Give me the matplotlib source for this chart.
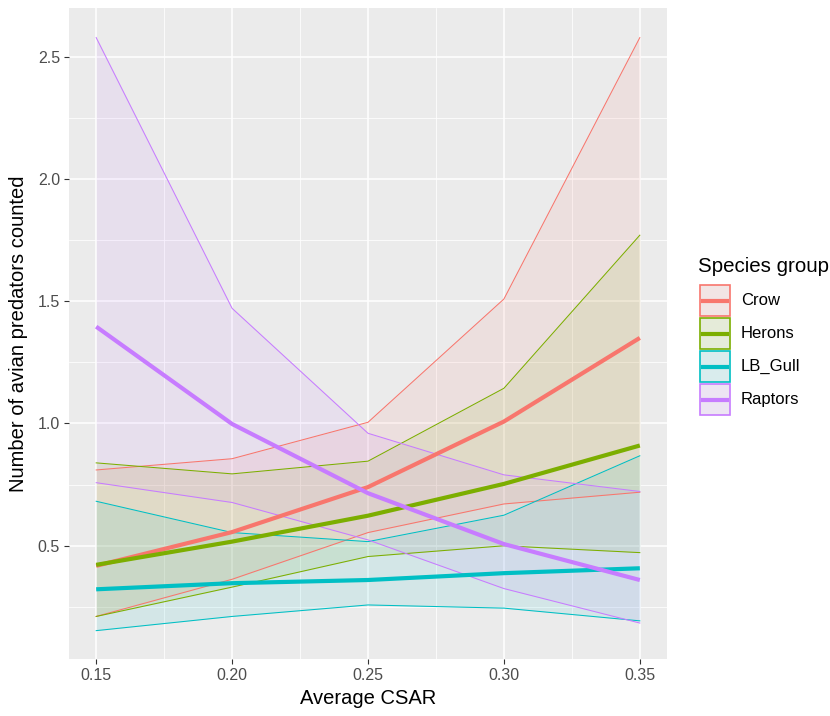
import numpy as np
import matplotlib
matplotlib.use("Agg")
import matplotlib.pyplot as plt
from matplotlib.patches import Rectangle

plt.rcParams["font.family"] = ["Liberation Sans", "DejaVu Sans"]

# data
csar = [0.15, 0.20, 0.25, 0.30, 0.35]
groups = ["Crow", "Herons", "LB_Gull", "Raptors"]
colors = ["#F8766D", "#7CAE00", "#00BFC4", "#C77CFF"]

crow_mean = [0.418, 0.556, 0.740, 1.008, 1.350]
crow_upper = [0.810, 0.856, 1.005, 1.509, 2.578]
crow_lower = [0.211, 0.363, 0.554, 0.671, 0.719]

herons_mean = [0.422, 0.517, 0.623, 0.753, 0.910]
herons_upper = [0.839, 0.794, 0.846, 1.144, 1.770]
herons_lower = [0.211, 0.331, 0.456, 0.500, 0.472]

gull_mean = [0.322, 0.347, 0.360, 0.388, 0.408]
gull_upper = [0.682, 0.554, 0.517, 0.625, 0.868]
gull_lower = [0.153, 0.211, 0.258, 0.245, 0.193]

raptor_mean = [1.396, 0.998, 0.715, 0.507, 0.360]
raptor_upper = [2.578, 1.471, 0.960, 0.790, 0.722]
raptor_lower = [0.758, 0.677, 0.524, 0.325, 0.184]

means = [crow_mean, herons_mean, gull_mean, raptor_mean]
uppers = [crow_upper, herons_upper, gull_upper, raptor_upper]
lowers = [crow_lower, herons_lower, gull_lower, raptor_lower]

W, H = 830, 716
fig = plt.figure(figsize=(W / 100, H / 100), dpi=100)
ax = fig.add_axes([69 / W, 1 - 659 / H, (667 - 69) / W, (659 - 8) / H])
ax.set_facecolor("#EBEBEB")

# ribbons first, then mean lines
for i in range(len(groups)):
    ax.fill_between(csar, lowers[i], uppers[i], color=colors[i], alpha=0.1, lw=0, zorder=2)
    ax.plot(csar, uppers[i], color=colors[i], lw=0.75, zorder=3)
    ax.plot(csar, lowers[i], color=colors[i], lw=0.75, zorder=3)
for i in range(len(groups)):
    ax.plot(csar, means[i], color=colors[i], lw=3.0, zorder=4, solid_capstyle="butt")

ax.set_xlim(0.14, 0.36)
ax.set_ylim(0.037, 2.699)
ax.set_xticks(csar)
ax.set_xticklabels(["%.2f" % v for v in csar])
ax.set_yticks([0.5, 1.0, 1.5, 2.0, 2.5])
ax.set_yticklabels(["0.5", "1.0", "1.5", "2.0", "2.5"])
ax.set_xticks([0.175, 0.225, 0.275, 0.325], minor=True)
ax.set_yticks([0.25, 0.75, 1.25, 1.75, 2.25], minor=True)
ax.grid(which="major", color="white", lw=1.1, zorder=1)
ax.grid(which="minor", color="white", lw=0.55, zorder=1)
ax.set_axisbelow(True)
for s in ax.spines.values():
    s.set_visible(False)
ax.tick_params(which="major", length=3.5, width=0.8, color="#333333",
               labelcolor="#4D4D4D", labelsize=11.5, pad=3)
ax.tick_params(which="minor", length=0)

ax.set_xlabel("Average CSAR", fontsize=14.5, color="black", labelpad=4)
ax.set_ylabel("Number of avian predators counted", fontsize=14.5, color="black", labelpad=7)

# legend drawn in pixel coordinates
lg = fig.add_axes([0, 0, 1, 1], facecolor="none")
lg.set_xlim(0, W)
lg.set_ylim(H, 0)
lg.axis("off")
lg.text(698, 267, "Species group", fontsize=14.8, va="center", ha="left", color="black")
key_top = [285, 318, 351, 384]
for i, g in enumerate(groups):
    y0 = key_top[i]
    lg.add_patch(Rectangle((700, y0), 30, 31, facecolor="#F2F2F2", lw=0))
    lg.add_patch(Rectangle((700, y0), 30, 31, facecolor=colors[i], alpha=0.1, lw=0))
    lg.add_patch(Rectangle((700, y0), 30, 31, facecolor="none", edgecolor=colors[i], lw=1.2))
    lg.plot([701, 729], [y0 + 15.5, y0 + 15.5], color=colors[i], lw=3.0, solid_capstyle="butt")
    lg.text(741, y0 + 15.5, g, fontsize=12, va="center", ha="left", color="black")

fig.savefig("out.png", dpi=100)
